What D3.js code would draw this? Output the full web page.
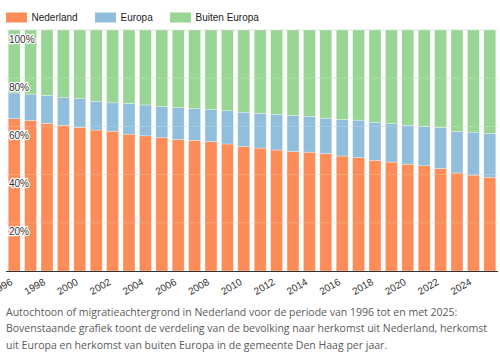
<!DOCTYPE html>
<html><head><meta charset="utf-8">
<script src="https://cdn.jsdelivr.net/npm/d3@7"></script>
<style>body{margin:0;background:#fff;}svg{display:block;}</style>
</head><body>
<svg id="c" width="500" height="359"></svg>
<script>
const years = [1996,1997,1998,1999,2000,2001,2002,2003,2004,2005,2006,2007,2008,2009,2010,2011,2012,2013,2014,2015,2016,2017,2018,2019,2020,2021,2022,2023,2024,2025];
const nederland = [63.2,62.5,61.3,60.5,59.6,58.5,58.0,56.8,56.1,55.3,54.6,54.2,53.7,52.7,51.7,51.0,50.2,49.6,49.3,48.7,47.7,47.0,45.9,45.2,44.3,43.7,42.5,40.7,39.8,38.9];
const europa = [10.7,10.9,11.6,11.6,11.9,11.9,11.8,12.7,12.8,13.0,13.2,13.3,13.3,13.8,14.2,14.4,14.8,15.0,14.9,14.7,15.2,15.6,15.8,16.0,16.2,16.3,17.0,17.2,17.8,18.2];
const buitenEuropa = [26.1,26.6,27.1,27.9,28.5,29.6,30.2,30.5,31.1,31.7,32.2,32.5,33.0,33.5,34.1,34.6,35.0,35.4,35.8,36.6,37.1,37.4,38.3,38.8,39.5,40.0,40.5,42.1,42.4,42.9];
const seriesNames = ["Nederland","Europa","Buiten Europa"];
const seriesColors = ["#fc8d59","#91bfdb","#99d594"];
const yTickValues = [20,40,60,80,100];
const xTickYears = [1996,1998,2000,2002,2004,2006,2008,2010,2012,2014,2016,2018,2020,2022,2024];
const captionLines = [
  "Autochtoon of migratieachtergrond in Nederland voor de periode van 1996 tot en met 2025:",
  "Bovenstaande grafiek toont de verdeling van de bevolking naar herkomst uit Nederland, herkomst",
  "uit Europa en herkomst van buiten Europa in de gemeente Den Haag per jaar."
];

const rows = years.map((y,i)=>({year:y, "Nederland":nederland[i], "Europa":europa[i], "Buiten Europa":buitenEuropa[i]}));
const svg = d3.select("#c");
const font = "'Liberation Sans', Arial, sans-serif";

const x = d3.scaleBand().domain(years).range([6,498]).paddingInner(0.27).paddingOuter(0.135);
const y = d3.scaleLinear().domain([0,100]).range([271,30]);
const color = d3.scaleOrdinal().domain(seriesNames).range(seriesColors);

svg.append("g").selectAll("line").data(yTickValues).join("line")
  .attr("x1",6).attr("x2",498).attr("y1",d=>y(d)).attr("y2",d=>y(d))
  .attr("stroke","#e3e3e3").attr("stroke-width",1);

const stacked = d3.stack().keys(seriesNames)(rows);
svg.append("g").selectAll("g").data(stacked).join("g")
  .attr("fill",d=>color(d.key))
  .selectAll("rect").data(d=>d).join("rect")
  .attr("x",d=>x(d.data.year)).attr("width",x.bandwidth())
  .attr("y",d=>y(d[1])).attr("height",d=>y(d[0])-y(d[1]))
  .attr("stroke","#fff").attr("stroke-opacity",0.5).attr("stroke-width",0.6);

svg.append("g").selectAll("line").data(yTickValues.filter(v=>v<100)).join("line")
  .attr("x1",6).attr("x2",498).attr("y1",d=>y(d)).attr("y2",d=>y(d))
  .attr("stroke","#fff").attr("stroke-opacity",0.18).attr("stroke-width",1);

svg.append("g").selectAll("text").data(yTickValues).join("text")
  .attr("x",9).attr("y",d=>y(d)+12.5)
  .attr("font-family",font).attr("font-size",10).attr("fill","#333")
  .attr("stroke","#fff").attr("stroke-width",2.5).attr("paint-order","stroke")
  .attr("stroke-linejoin","round")
  .text(d=>d+"%");

const xAxis = d3.axisBottom(x).tickValues(xTickYears).tickSize(0).tickPadding(0).tickFormat(d=>String(d));
const gx = svg.append("g").attr("transform","translate(0,271)").call(xAxis);
gx.select(".domain").attr("stroke","#333").attr("d","M6,0.5H498");
gx.selectAll("text")
  .attr("font-family",font).attr("font-size",10).attr("fill","#333")
  .attr("text-anchor","end").attr("y",0).attr("dy",0)
  .attr("transform","translate(-1,13) rotate(-30)");

const leg = svg.append("g");
const legX = [6,95,170];
seriesNames.forEach((n,i)=>{
  leg.append("rect").attr("x",legX[i]).attr("y",12.5).attr("width",21).attr("height",10).attr("fill",color(n));
  leg.append("text").attr("x",legX[i]+25.5).attr("y",21).attr("font-family",font).attr("font-size",10).attr("fill","#222").text(n);
});

const cap = svg.append("g").selectAll("text").data(captionLines).join("text")
  .attr("x",6).attr("y",(d,i)=>316+i*16.3)
  .attr("font-family","'Open Sans', sans-serif").attr("font-size",11).attr("fill","#5a5a5a")
  .text(d=>d);
const nodes = cap.nodes();
const w0 = nodes[0].getComputedTextLength(), w1 = nodes[1].getComputedTextLength();
if (w0 > 0 && w1 > 0) cap.attr("font-size", 11 * Math.min(469 / w0, 482 / w1));
</script>
</body></html>
